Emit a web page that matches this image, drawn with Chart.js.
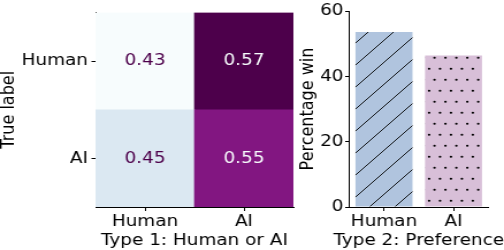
<!DOCTYPE html>
<html lang="en">
<head>
  <meta charset="UTF-8">
  <title>Human or AI</title>
  <script src="https://cdn.jsdelivr.net/npm/chart.js"></script>
  <style>
    html, body { margin: 0; padding: 0; background: #fff; }
    #wrap { position: relative; width: 504px; height: 250px; overflow: hidden; }
    #wrap canvas { position: absolute; left: 0; top: 0; }
  </style>
</head>
<body>
  <div id="wrap">
    <!-- the source figure is stretched sideways, so both canvases get stretched too -->
    <canvas id="matrixChart" width="438" height="250" style="width:504px;height:250px"></canvas>
    <canvas id="prefChart" width="438" height="250" style="width:504px;height:250px"></canvas>
  </div>

  <script>
    // Type 1: confusion matrix (rows = true label, columns = predicted)
    const predictedLabels = ['Human', 'AI'];
    const trueLabels = ['Human', 'AI'];
    const humanRow = [0.43, 0.57];
    const aiRow = [0.45, 0.55];

    // Type 2: preference
    const prefLabels = ['Human', 'AI'];
    const prefWin = [53.6, 46.4];
    const prefTicks = [0, 20, 40, 60];
    const prefTitle = 'Type 2: Preference';

    Chart.defaults.font.family = '"DejaVu Sans"';
    Chart.defaults.font.size = 16;
    Chart.defaults.color = '#000';

    // BuPu colormap
    const bupuStops = ['#f7fcfd', '#e0ecf4', '#bfd3e6', '#9ebcda', '#8c96c6',
                       '#8c6bb1', '#88419d', '#810f7c', '#4d004b'];
    function hexRgb(h) {
      return [1, 3, 5].map(i => parseInt(h.slice(i, i + 2), 16));
    }
    function bupu(t) {
      t = Math.min(Math.max(t, 0), 1);
      const p = t * (bupuStops.length - 1);
      const i = Math.min(Math.floor(p), bupuStops.length - 2);
      const f = p - i;
      const a = hexRgb(bupuStops[i]), b = hexRgb(bupuStops[i + 1]);
      const c = a.map((v, k) => Math.round(v + (b[k] - v) * f));
      return `rgb(${c[0]}, ${c[1]}, ${c[2]})`;
    }

    const allVals = humanRow.concat(aiRow);
    const vmin = Math.min(...allVals);
    const vmax = Math.max(...allVals);
    const norm = v => (v - vmin) / (vmax - vmin);

    // rows stacked from the bottom up
    const rows = [aiRow, humanRow];
    const rowNames = ['AI', 'Human'];

    const cellText = {
      id: 'cellText',
      afterDatasetsDraw(chart) {
        const ctx = chart.ctx;
        ctx.save();
        ctx.font = '16px "DejaVu Sans"';
        ctx.textAlign = 'center';
        ctx.textBaseline = 'middle';
        chart.data.datasets.forEach((ds, i) => {
          chart.getDatasetMeta(i).data.forEach((bar, j) => {
            const v = ds.values[j];
            ctx.fillStyle = norm(v) < 0.5 ? bupuStops[8] : bupuStops[0];
            ctx.fillText(v.toFixed(2), bar.x, (bar.y + bar.base) / 2);
          });
        });
        ctx.restore();
      }
    };

    const axisGrid = { drawOnChartArea: false, tickLength: 4, color: '#000', lineWidth: 1, offset: false };
    const axisBorder = { display: true, color: '#000', width: 1 };

    new Chart(document.getElementById('matrixChart'), {
      type: 'bar',
      data: {
        labels: predictedLabels,
        datasets: rows.map((r, i) => ({
          label: rowNames[i],
          data: r.map(() => 1),
          values: r,
          backgroundColor: r.map(v => bupu(norm(v))),
          borderWidth: 0,
          barPercentage: 1,
          categoryPercentage: 1
        }))
      },
      options: {
        responsive: false,
        devicePixelRatio: 1,
        animation: false,
        layout: { padding: { top: 7, right: 183, left: 0, bottom: 0 } },
        plugins: { legend: { display: false }, tooltip: { enabled: false } },
        scales: {
          x: {
            stacked: true,
            grid: axisGrid,
            border: axisBorder,
            ticks: { padding: 1, maxRotation: 0, autoSkip: false },
            title: { display: true, text: 'Type 1: Human or AI', padding: { top: 0, bottom: 0 } },
            afterFit: s => { s.height = 43; }
          },
          y: {
            type: 'linear',
            stacked: true,
            min: 0,
            max: 2,
            grid: { ...axisGrid, tickLength: 3.5 },
            border: axisBorder,
            ticks: {
              padding: 3,
              callback: v => trueLabels[trueLabels.length - 1 - Math.floor(v)]
            },
            afterBuildTicks: s => {
              s.ticks = trueLabels.map((l, i) => ({ value: trueLabels.length - 1 - i + 0.5 }));
            },
            title: { display: true, text: 'True label', padding: { top: -2.2, bottom: 0 } },
            afterFit: s => { s.width = 83; }
          }
        }
      },
      plugins: [cellText]
    });

    // hatch fills for the preference bars
    function linePattern(base) {
      const size = 22;
      const c = document.createElement('canvas');
      c.width = size; c.height = size;
      const g = c.getContext('2d');
      g.fillStyle = base;
      g.fillRect(0, 0, size, size);
      g.strokeStyle = '#000';
      g.lineWidth = 0.9;
      for (let k = -1; k <= 1; k++) {
        g.beginPath();
        g.moveTo(k * size, size);
        g.lineTo(k * size + size, 0);
        g.stroke();
      }
      return g.createPattern(c, 'repeat');
    }
    function dotPattern(base) {
      const w = 19, h = 22;
      const c = document.createElement('canvas');
      c.width = w; c.height = h;
      const g = c.getContext('2d');
      g.fillStyle = base;
      g.fillRect(0, 0, w, h);
      g.fillStyle = '#000';
      [[2.4, 2.75], [11.9, 2.75], [7.1, 13.75], [16.6, 13.75]].forEach(([x, y]) => {
        g.beginPath();
        g.arc(x, y, 1.1, 0, Math.PI * 2);
        g.fill();
      });
      return g.createPattern(c, 'repeat');
    }

    // x title wider than the axis, drawn by hand so it is not squeezed
    const wideTitle = {
      id: 'wideTitle',
      afterDraw(chart) {
        const s = chart.scales.x;
        const ctx = chart.ctx;
        ctx.save();
        ctx.font = '16px "DejaVu Sans"';
        ctx.fillStyle = '#000';
        ctx.textAlign = 'center';
        ctx.textBaseline = 'middle';
        ctx.fillText(prefTitle, (s.left + s.right) / 2, chart.height - 9.6);
        ctx.restore();
      }
    };

    new Chart(document.getElementById('prefChart'), {
      type: 'bar',
      data: {
        labels: prefLabels,
        datasets: [{
          label: 'Percentage win',
          data: prefWin,
          backgroundColor: [linePattern('#b0c4de'), dotPattern('#d8bfd8')],
          borderWidth: 0,
          barPercentage: 0.82,
          categoryPercentage: 1
        }]
      },
      options: {
        responsive: false,
        devicePixelRatio: 1,
        animation: false,
        layout: { padding: { top: 7, right: 13.7, left: 252, bottom: 0 } },
        plugins: { legend: { display: false }, tooltip: { enabled: false } },
        scales: {
          x: {
            grid: axisGrid,
            border: axisBorder,
            ticks: { padding: 1, maxRotation: 0, minRotation: 0, autoSkip: false },
            title: { display: false },
            afterFit: s => { s.height = 43; }
          },
          y: {
            min: 0,
            max: 60,
            grid: { ...axisGrid, tickLength: 3.5 },
            border: axisBorder,
            ticks: { padding: 1.5 },
            afterBuildTicks: s => { s.ticks = prefTicks.map(v => ({ value: v })); },
            title: { display: true, text: 'Percentage win', padding: { top: 6.1, bottom: 0 } },
            afterFit: s => { s.width = 51.5; }
          }
        }
      },
      plugins: [wideTitle]
    });
  </script>
</body>
</html>
